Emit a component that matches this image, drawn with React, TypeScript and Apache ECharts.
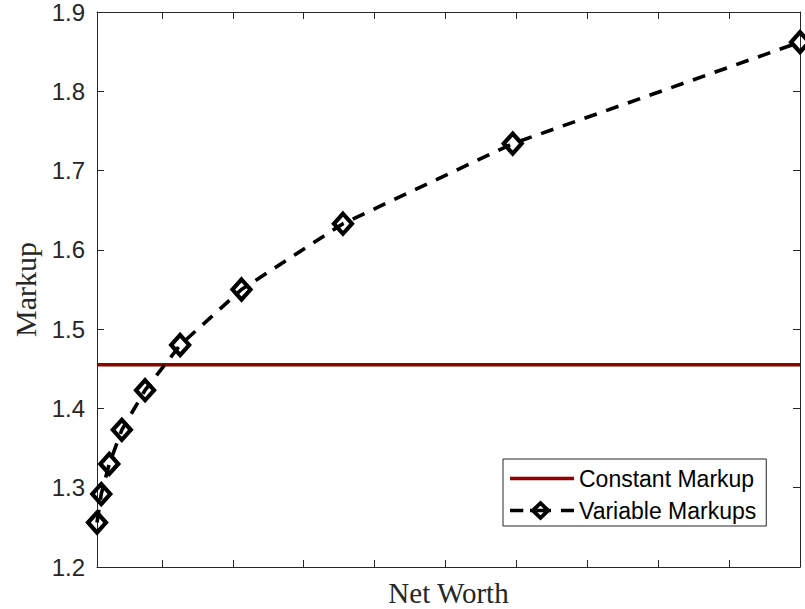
import React, { useEffect, useRef } from "react";
import * as echarts from "echarts";

const netWorth = [0.085, 0.145, 0.258, 0.435, 0.763, 1.258, 2.123, 3.554, 5.948, 10.0];
const variableMarkups = [1.256, 1.292, 1.33, 1.373, 1.423, 1.48, 1.55, 1.633, 1.734, 1.862];
const constantMarkup = 1.455;
const xTickValues = [1, 2, 3, 4, 5, 6, 7, 8, 9, 10];
const yMin = 1.2;
const yMax = 1.9;
const yStep = 0.1;
const seriesNames = ["Constant Markup", "Variable Markups"];
const axisTitles = { x: "Net Worth", y: "Markup" };

const AXIS = "#262626";
const RED = "#8b0000";

const solidLegendIcon = "path://M0,0H64V3.5H0Z";
const dashDiamondLegendIcon =
  "path://M0,-1.75H13.3V1.75H0Z" +
  "M51,-1.75H64V1.75H51Z" +
  "M30.5,-10L41,0L30.5,10L20,0Z" +
  "M30.5,-4.8L25.5,0L30.5,4.8L35.5,0Z" +
  "M20,-1.75H41V1.75H20Z";

export default function App() {
  const ref = useRef<HTMLDivElement>(null);
  useEffect(() => {
    if (!ref.current) return;
    const chart = echarts.init(ref.current, null, { renderer: "svg" });
    const xMin = netWorth[0];
    const xMax = netWorth[netWorth.length - 1];
    const tickCommon = {
      show: true,
      inside: true,
      length: 7,
      lineStyle: { color: AXIS, width: 1 },
    };
    const option: any = {
      animation: false,
      backgroundColor: "#ffffff",
      grid: { left: 97, top: 12, right: 5, bottom: 42, containLabel: false, outerBoundsMode: "none" },
      legend: {
        left: 503,
        top: 459,
        orient: "vertical",
        backgroundColor: "#ffffff",
        borderColor: AXIS,
        borderWidth: 1,
        borderRadius: 0,
        padding: [8, 10, 4, 7],
        itemWidth: 64,
        itemHeight: 20,
        itemGap: 9,
        symbolKeepAspect: true,
        textStyle: { fontFamily: "Liberation Sans", fontSize: 23, color: "#000" },
        data: [
          {
            name: seriesNames[0],
            icon: solidLegendIcon,
            itemStyle: { color: RED, borderWidth: 0 },
          },
          {
            name: seriesNames[1],
            icon: dashDiamondLegendIcon,
            itemStyle: { color: "#000", borderWidth: 0 },
          },
        ],
      },
      xAxis: [
        {
          type: "value",
          min: xMin,
          max: xMax,
          position: "bottom",
          name: axisTitles.x,
          nameLocation: "middle",
          nameGap: 11,
          nameTextStyle: { fontFamily: "Liberation Serif", fontSize: 29, color: AXIS, verticalAlign: "top" },
          axisLine: { show: true, onZero: false, lineStyle: { color: AXIS, width: 1 } },
          axisTick: { ...tickCommon, customValues: xTickValues },
          axisLabel: { show: false },
          splitLine: { show: false },
        },
        {
          type: "value",
          min: xMin,
          max: xMax,
          position: "top",
          axisLine: { show: true, onZero: false, lineStyle: { color: AXIS, width: 1 } },
          axisTick: { ...tickCommon, customValues: xTickValues },
          axisLabel: { show: false },
          splitLine: { show: false },
        },
      ],
      yAxis: [
        {
          type: "value",
          min: yMin,
          max: yMax,
          interval: yStep,
          position: "left",
          name: axisTitles.y,
          nameLocation: "middle",
          nameGap: 57,
          nameRotate: 90,
          nameTextStyle: { fontFamily: "Liberation Serif", fontSize: 30, color: AXIS },
          axisLine: { show: true, onZero: false, lineStyle: { color: AXIS, width: 1 } },
          axisTick: tickCommon,
          axisLabel: {
            show: true,
            margin: 12,
            fontFamily: "Liberation Sans",
            fontSize: 24,
            color: AXIS,
            formatter: (v: number) => v.toFixed(1),
          },
          splitLine: { show: false },
        },
        {
          type: "value",
          min: yMin,
          max: yMax,
          interval: yStep,
          position: "right",
          axisLine: { show: true, onZero: false, lineStyle: { color: AXIS, width: 1 } },
          axisTick: tickCommon,
          axisLabel: { show: false },
          splitLine: { show: false },
        },
      ],
      series: [
        {
          name: seriesNames[0],
          type: "line",
          xAxisIndex: 0,
          yAxisIndex: 0,
          data: [
            [xMin, constantMarkup],
            [xMax, constantMarkup],
          ],
          symbol: "none",
          lineStyle: { color: RED, width: 3.5 },
          itemStyle: { color: RED },
          z: 2,
        },
        {
          name: seriesNames[1],
          type: "line",
          xAxisIndex: 0,
          yAxisIndex: 0,
          data: netWorth.map((x, i) => [x, variableMarkups[i]]),
          symbol: "diamond",
          symbolSize: [18, 20],
          showSymbol: true,
          clip: false,
          lineStyle: { color: "#000", width: 3.6, type: [13, 10] },
          itemStyle: { color: "rgba(255,255,255,0)", borderColor: "#000", borderWidth: 4.2 },
          z: 3,
        },
      ],
    };
    chart.setOption(option);
    return () => chart.dispose();
  }, []);
  return (
    <div
      ref={ref}
      style={{ position: "fixed", left: 0, top: 0, width: 805, height: 609, background: "#fff" }}
    />
  );
}
